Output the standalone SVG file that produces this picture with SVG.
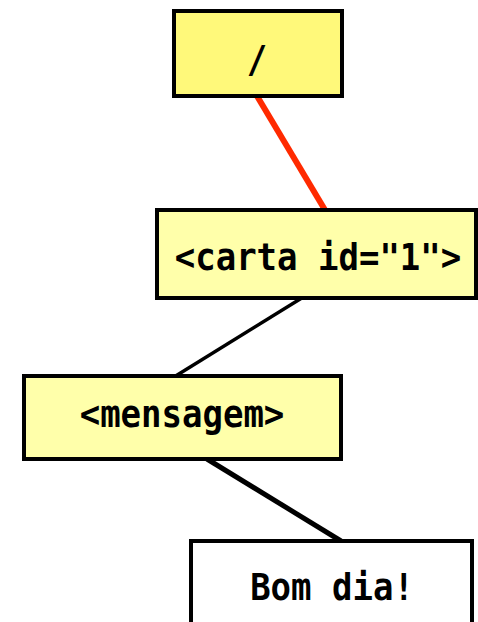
<svg xmlns="http://www.w3.org/2000/svg" width="478" height="622" viewBox="0 0 478 622">
<style>
.box{stroke:#000;stroke-width:4}
.t{font-family:"DejaVu Sans Mono","Liberation Mono",monospace;font-weight:bold;font-size:34px;text-anchor:middle;fill:#000}
</style>
<rect width="478" height="622" fill="#fff"/>
<g id="connectors" fill="none" stroke-linecap="butt">
<line x1="257" y1="96" x2="325" y2="210" stroke="#ff2a00" stroke-width="6"/>
<line x1="305" y1="296" x2="174" y2="377" stroke="#000" stroke-width="3.5"/>
<line x1="207" y1="459" x2="341" y2="541" stroke="#000" stroke-width="5"/>
</g>
<g id="root">
<rect class="box" x="174" y="11" width="168" height="85" fill="#fff97a"/>
<text class="t" transform="translate(257,72) scale(1,1.1)">/</text>
</g>
<g id="carta">
<rect class="box" x="157" y="210" width="319" height="88" fill="#ffffaa"/>
<text class="t" transform="translate(318,270) scale(1,1.1)">&lt;carta id="1"&gt;</text>
</g>
<g id="mensagem">
<rect class="box" x="24" y="376" width="317" height="83" fill="#ffffaa"/>
<text class="t" transform="translate(182,427) scale(1,1.1)">&lt;mensagem&gt;</text>
</g>
<g id="bomdia">
<rect class="box" x="191" y="541" width="281" height="90" fill="#fff"/>
<text class="t" transform="translate(332,600) scale(1,1.1)">Bom dia!</text>
</g>
</svg>
